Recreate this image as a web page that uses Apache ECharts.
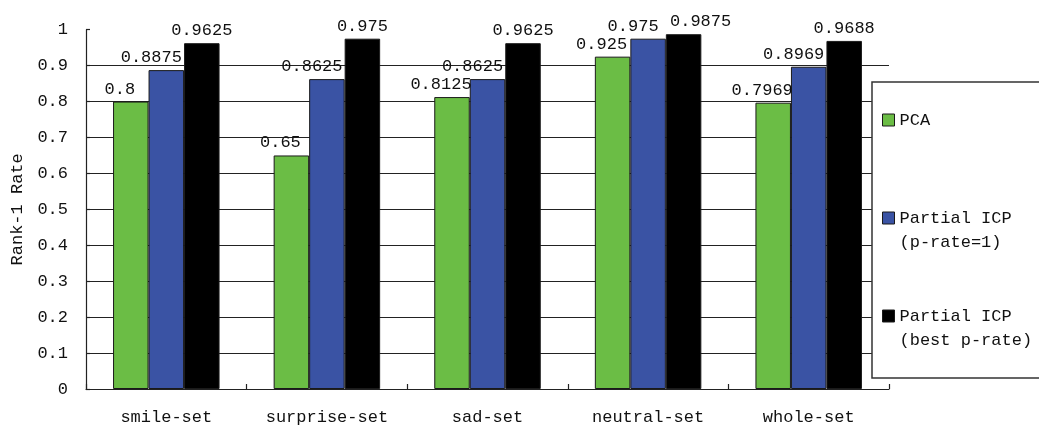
<!DOCTYPE html>
<html>
<head>
<meta charset="utf-8">
<script src="https://cdn.jsdelivr.net/npm/echarts@6/dist/echarts.min.js"></script>
<style>
  html, body { margin: 0; padding: 0; background: #fff; }
  #chart { width: 1039px; height: 434px; }
</style>
</head>
<body>
<div id="chart"></div>
<script>
// Rank-1 recognition rate for each expression subset
const categories = ['smile-set', 'surprise-set', 'sad-set', 'neutral-set', 'whole-set'];
const seriesNames = ['PCA', 'Partial ICP\n(p-rate=1)', 'Partial ICP\n(best p-rate)'];
const pcaValues = [0.8, 0.65, 0.8125, 0.925, 0.7969];
const icpFullValues = [0.8875, 0.8625, 0.8625, 0.975, 0.8969];
const icpBestValues = [0.9625, 0.975, 0.9625, 0.9875, 0.9688];

const FONT = '"Liberation Mono", monospace';
const colors = ['#6bbd45', '#3a53a4', '#000000'];
// value labels sit slightly left of the green/blue bars so neighbours do not collide
const labelShift = [-11, -15, 0];

const chart = echarts.init(document.getElementById('chart'), null, { renderer: 'canvas' });

function makeSeries(name, values, idx) {
  return {
    name: name,
    type: 'bar',
    barWidth: 35.5,
    barGap: '0%',
    itemStyle: { color: colors[idx], borderColor: '#1a1a1a', borderWidth: 1 },
    label: {
      show: true,
      position: 'top',
      distance: 4,
      offset: [labelShift[idx], 0],
      fontFamily: FONT,
      fontSize: 17,
      color: '#111',
      formatter: p => String(p.value)
    },
    data: values.map((v, i) => {
      // the tallest neutral-set label is pushed right, clear of its neighbour
      if (idx === 2 && i === 3) return { value: v, label: { offset: [17, 0] } };
      return v;
    })
  };
}

chart.setOption({
  animation: false,
  backgroundColor: '#fff',
  textStyle: { fontFamily: FONT },
  grid: { left: 86, right: 150, top: 29.7, bottom: 45, containLabel: false },
  legend: {
    orient: 'vertical',
    left: 872,
    top: 82,
    padding: [2, 30, 26, 10],
    backgroundColor: '#fff',
    borderColor: '#333',
    borderWidth: 1.5,
    borderRadius: 0,
    itemGap: 26,
    itemWidth: 12,
    itemHeight: 12,
    icon: 'rect',
    itemStyle: { borderColor: '#1a1a1a', borderWidth: 1 },
    textStyle: { fontFamily: FONT, fontSize: 17, color: '#111', lineHeight: 24 },
    // pad every entry to three lines so the marker lines up with the first text line
    formatter: name => name.indexOf('\n') >= 0 ? '\n' + name : '\n' + name + '\n',
    data: seriesNames
  },
  xAxis: {
    type: 'category',
    data: categories,
    axisLine: { show: true, lineStyle: { color: '#222', width: 1.2 } },
    axisTick: { show: true, inside: true, length: 5, lineStyle: { color: '#222', width: 1.2 } },
    axisLabel: { margin: 20, fontFamily: FONT, fontSize: 17, color: '#111' },
    splitLine: { show: false }
  },
  yAxis: {
    type: 'value',
    min: 0,
    max: 1,
    interval: 0.1,
    name: 'Rank-1 Rate',
    nameLocation: 'middle',
    nameGap: 60,
    nameTextStyle: { fontFamily: FONT, fontSize: 17, color: '#111' },
    axisLine: { show: true, lineStyle: { color: '#222', width: 1.2 } },
    axisTick: { show: true, inside: true, length: 4, lineStyle: { color: '#222', width: 1.2 } },
    axisLabel: { margin: 18, fontFamily: FONT, fontSize: 17, color: '#111' },
    splitLine: { show: true, showMinLine: false, showMaxLine: false, lineStyle: { color: '#222', width: 1.2 } }
  },
  series: [
    makeSeries(seriesNames[0], pcaValues, 0),
    makeSeries(seriesNames[1], icpFullValues, 1),
    makeSeries(seriesNames[2], icpBestValues, 2)
  ]
});
</script>
</body>
</html>
